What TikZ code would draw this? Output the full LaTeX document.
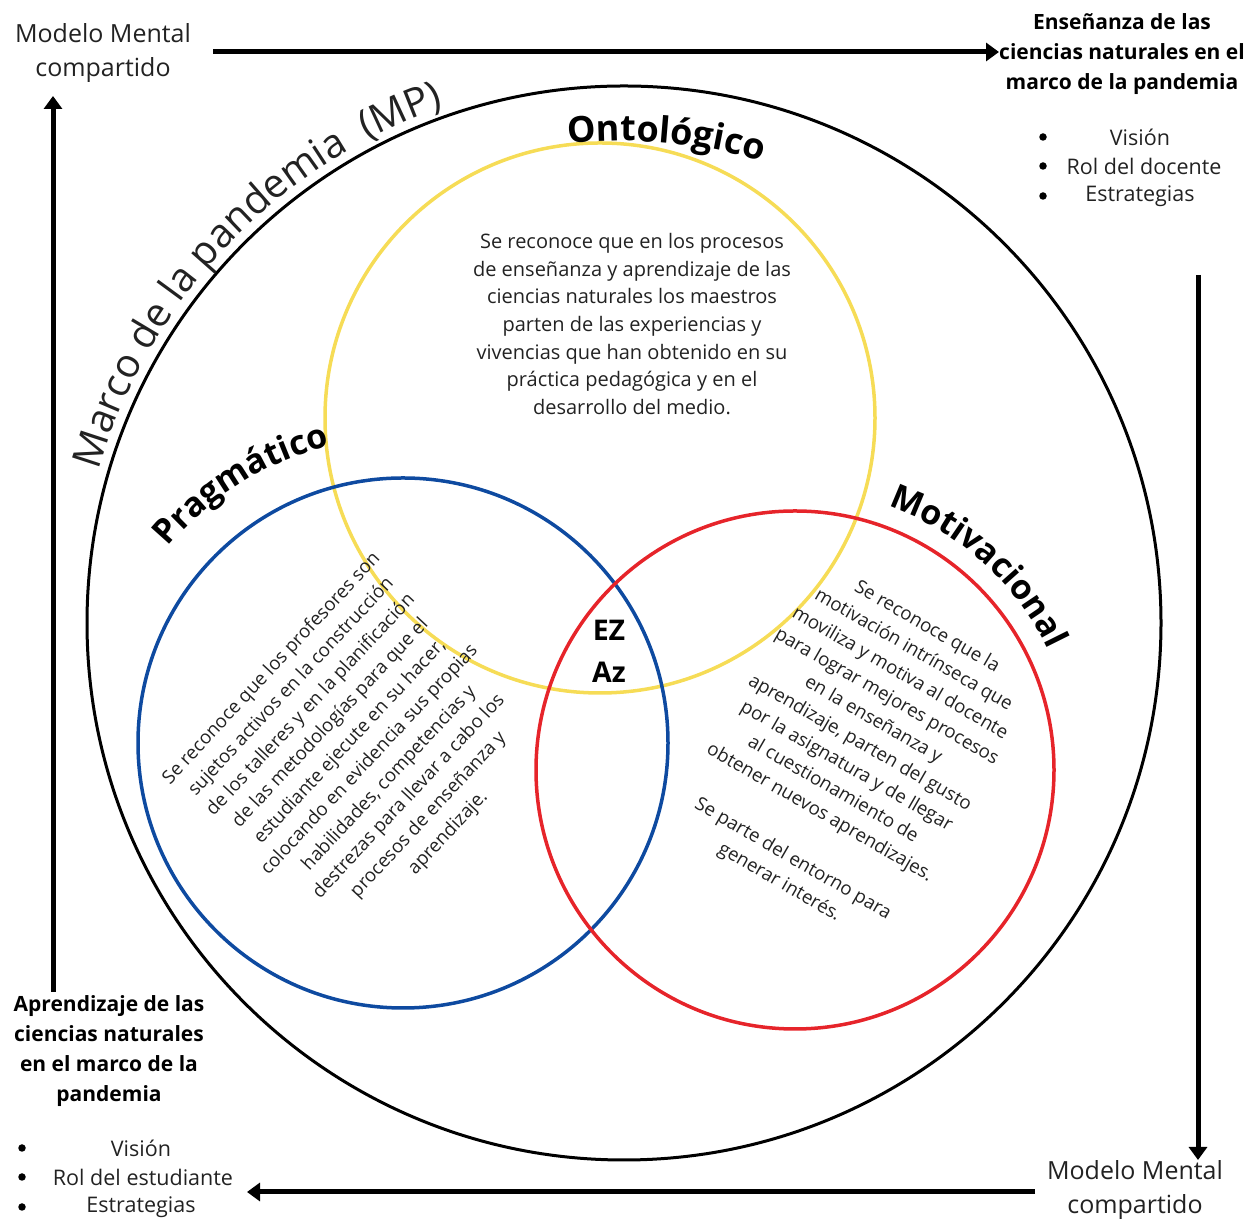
\documentclass[tikz,border=0pt]{standalone}
\usepackage{fontspec}
\setmainfont{Open Sans}
\usetikzlibrary{arrows.meta,decorations.text}
\definecolor{ringyellow}{RGB}{246,220,86}
\definecolor{ringblue}{RGB}{14,74,160}
\definecolor{ringred}{RGB}{230,36,42}
\definecolor{ink}{RGB}{34,34,34}
\begin{document}
\begin{tikzpicture}[x=1pt,y=1pt,
  frame/.style={draw=black, line width=3pt},
  ring/.style={line width=3.5pt},
  arr/.style={line width=5pt, -{Triangle[length=13pt,width=18pt]}},
  lbl/.style={font=\fontsize{25}{34}\selectfont, align=center, text=ink, inner sep=0pt},
  ttl/.style={font=\fontsize{21}{30}\selectfont\bfseries, align=center, text=black, inner sep=0pt},
  itm/.style={font=\fontsize{21.5}{29.5}\selectfont, text=ink, inner sep=0pt},
  dot/.style={circle, fill=black, inner sep=0pt, minimum size=7.5pt},
  body/.style={font=\fontsize{20}{27.7}\selectfont, align=center, text=ink, inner sep=0pt},
  rbody/.style={font=\fontsize{18.7}{26.8}\selectfont, align=center, text=ink, inner sep=0pt},
  tag/.style={font=\fontsize{28.5}{42}\selectfont\bfseries, align=center, text=black, inner sep=0pt},
  arctext/.style={decorate, decoration={text along path, text align=center, text={#1}}}
]
\useasboundingbox (0,0) rectangle (1251,1223);

% centres of the four circles
\coordinate (bigc) at (624,600);
\coordinate (yc) at (600,805);
\coordinate (bc) at (403,480);
\coordinate (rc) at (795,453);

% outer frame and the three overlapping circles
\draw[frame] (bigc) circle[radius=537];
\draw[ring, draw=ringyellow] (yc) circle[radius=275];
\draw[ring, draw=ringblue] (bc) circle[radius=265];
\draw[ring, draw=ringred] (rc) circle[radius=259];

% curved headings
\path[arctext={|\fontsize{40}{44}\selectfont\color{ink}|Marco de la pandemia {~}(MP)}]
  (bigc) ++(166:547) arc[start angle=166, end angle=107, radius=547];
\path[arctext={|\fontsize{36}{40}\selectfont\bfseries|Ontológico}]
  (bigc) ++(100:482) arc[start angle=100, end angle=70, radius=482];
\path[arctext={|\fontsize{34}{38}\selectfont\bfseries|Pragmático}]
  (bc) ++(142:306) arc[start angle=142, end angle=102, radius=306];
\path[arctext={|\fontsize{34}{38}\selectfont\bfseries|Motivacional}]
  (rc) ++(75:280) arc[start angle=75, end angle=21, radius=280];

% texts inside the circles
\node[body] (onto) at (632,899) {Se reconoce que en los procesos\\de enseñanza y aprendizaje de las\\ciencias naturales los maestros\\parten de las experiencias y\\vivencias que han obtenido en su\\práctica pedagógica y en el\\desarrollo del medio.};
\node[rbody, rotate=47] (prag) at (360,472) {Se reconoce que los profesores son\\sujetos activos en la construcción\\de los talleres y en la planificación\\de las metodologías para que el\\estudiante ejecute en su hacer,\\colocando en evidencia sus propias\\habilidades, competencias y\\destrezas para llevar a cabo los\\procesos de enseñanza y\\aprendizaje.};
\node[rbody, rotate=-30] (motiv) at (853,468) {Se reconoce que la\\motivación intrínseca que\\moviliza y motiva al docente\\para lograr mejores procesos\\en la enseñanza y\\aprendizaje, parten del gusto\\por la asignatura y de llegar\\al cuestionamiento de\\obtener nuevos aprendizajes.\\[26.8pt]Se parte del entorno para\\generar interés.};
\node[tag] (ez) at (609,572) {EZ\\Az};

% corner labels
\node[lbl] (mmtl) at (103,1170) {Modelo Mental\\compartido};
\node[lbl] (mmbr) at (1135,33) {Modelo Mental\\compartido};
\node[ttl] (ens) at (1122,1169) {Enseñanza de las\\ciencias naturales en el\\marco de la pandemia};
\node[ttl] (apr) at (109,172) {Aprendizaje de las\\ciencias naturales\\en el marco de la\\pandemia};

% bullet lists
\node[dot] (tb1) at (1043,1086) {};
\node[dot] (tb2) at (1043,1057) {};
\node[dot] (tb3) at (1043,1027) {};
\node[itm] (ti1) at (1140,1086) {Visión};
\node[itm] (ti2) at (1144,1057) {Rol del docente};
\node[itm] (ti3) at (1140,1027) {Estrategias};
\node[dot] (bb1) at (22,75) {};
\node[dot] (bb2) at (22,46) {};
\node[dot] (bb3) at (22,16) {};
\node[itm] (bi1) at (141,75) {Visión};
\node[itm] (bi2) at (143,46) {Rol del estudiante};
\node[itm] (bi3) at (141,16) {Estrategias};

% arrow ends
\coordinate (ltop) at (53,1127);
\coordinate (lbot) at (53,231);
\coordinate (rtop) at (1198,948);
\coordinate (rbot) at (1198,63);
\coordinate (bstart) at (1035,31);
\coordinate (bend) at (247,31);

% arrows around the frame
\draw[arr] ([xshift=22pt]mmtl.east |- 0,1171) -- (ens.west |- 0,1171);
\draw[arr] (lbot) -- (ltop);
\draw[arr] (rtop) -- (rbot);
\draw[arr] (bstart) -- (bend);
\end{tikzpicture}
\end{document}
